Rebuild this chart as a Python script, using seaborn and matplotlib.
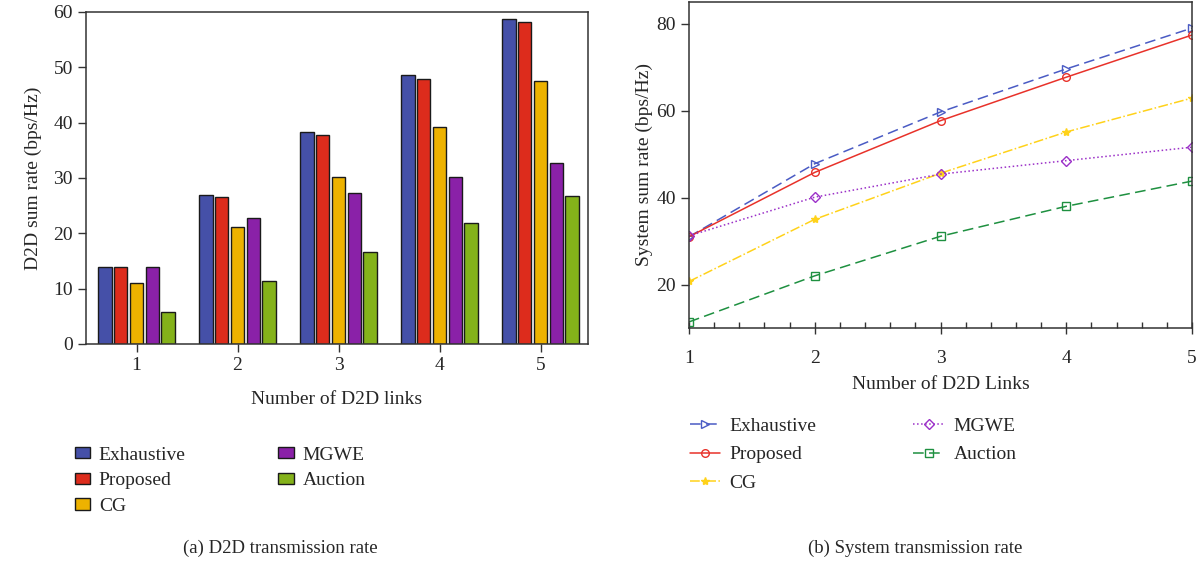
import numpy as np
import pandas as pd
import seaborn as sns
import matplotlib.pyplot as plt
from matplotlib.ticker import MultipleLocator

# Data
links = [1, 2, 3, 4, 5]
schemes = ['Exhaustive', 'Proposed', 'CG', 'MGWE', 'Auction']

d2d_exhaustive = [14.0, 27.0, 38.3, 48.7, 58.7]
d2d_proposed = [14.0, 26.5, 37.7, 47.9, 58.2]
d2d_cg = [11.0, 21.1, 30.1, 39.3, 47.6]
d2d_mgwe = [14.0, 22.8, 27.3, 30.1, 32.7]
d2d_auction = [5.8, 11.3, 16.6, 21.8, 26.7]

sys_exhaustive = [31.0, 47.8, 59.7, 69.6, 79.0]
sys_proposed = [31.0, 45.8, 57.7, 67.7, 77.4]
sys_cg = [20.7, 35.0, 45.6, 55.1, 62.9]
sys_mgwe = [31.2, 40.1, 45.4, 48.5, 51.6]
sys_auction = [11.4, 22.0, 31.1, 38.0, 43.8]

bar_colors = ['#4550A8', '#DD2C1C', '#EDB200', '#8A21A8', '#84B21A']
line_colors = ['#4A5BC4', '#E8322A', '#FFD21A', '#9B30C8', '#1E9040']
line_styles = [(0, (7, 3.5)), '-', '-.', ':', (0, (7, 3.5))]
line_markers = ['>', 'o', '*', 'D', 's']

sns.set_style('white')
plt.rcParams['font.family'] = ['Liberation Serif', 'DejaVu Serif']

fig = plt.figure(figsize=(12.01, 5.65), dpi=100)
W, H = 1201, 565
ax1 = fig.add_axes([86 / W, 1 - 344 / H, 502 / W, 332 / H])
ax2 = fig.add_axes([689 / W, 1 - 328 / H, 503 / W, 326 / H])

# (a) bar chart
d2d = [d2d_exhaustive, d2d_proposed, d2d_cg, d2d_mgwe, d2d_auction]
df_bar = pd.DataFrame({
    'links': np.tile(links, len(schemes)),
    'rate': np.concatenate(d2d),
    'scheme': np.repeat(schemes, len(links)),
})
sns.barplot(data=df_bar, x='links', y='rate', hue='scheme', hue_order=schemes,
            palette=bar_colors, saturation=1, edgecolor='#1a1a1a', linewidth=1.0,
            width=0.78, gap=0.16, ax=ax1, legend=True)
ax1.set_xlim(-0.5, 4.47)
ax1.set_ylim(0, 60)
ax1.yaxis.set_major_locator(MultipleLocator(10))
ax1.set_xlabel('Number of D2D links', fontsize=14, labelpad=12)
ax1.set_ylabel('D2D sum rate (bps/Hz)', fontsize=14, labelpad=8)
h1, l1 = ax1.get_legend_handles_labels()
ax1.get_legend().remove()

# (b) line chart
sysr = [sys_exhaustive, sys_proposed, sys_cg, sys_mgwe, sys_auction]
for name, vals, c, ls, mk in zip(schemes, sysr, line_colors, line_styles, line_markers):
    sns.lineplot(x=links, y=vals, ax=ax2, color=c, linestyle=ls, linewidth=1.1,
                 marker=mk, markersize=5.5 if mk != '*' else 6,
                 markerfacecolor='none' if mk != '*' else c,
                 markeredgecolor=c, markeredgewidth=1.0, label=name)
ax2.set_xlim(1, 5)
ax2.set_ylim(10, 85)
ax2.xaxis.set_major_locator(MultipleLocator(1))
ax2.xaxis.set_minor_locator(MultipleLocator(0.2))
ax2.yaxis.set_major_locator(MultipleLocator(20))
ax2.set_xlabel('Number of D2D Links', fontsize=14, labelpad=6)
ax2.set_ylabel('System sum rate (bps/Hz)', fontsize=14, labelpad=2)
h2, l2 = ax2.get_legend_handles_labels()
ax2.get_legend().remove()

for ax in (ax1, ax2):
    for s in ax.spines.values():
        s.set_visible(True)
        s.set_color('#333333')
        s.set_linewidth(1.1)
    ax.tick_params(axis='both', which='major', direction='out', length=6,
                   width=1, color='#333333', labelsize=14, bottom=True, left=True)
ax2.tick_params(axis='x', which='major', direction='inout', length=8, pad=12)
ax2.tick_params(axis='x', which='minor', direction='in', length=4, width=1,
                color='#333333', bottom=True)

fig.legend(h1, l1, ncol=2, loc='upper left', bbox_to_anchor=(57 / W, 1 - 429 / H),
           frameon=False, fontsize=14, handlelength=0.8, handleheight=0.55,
           columnspacing=4.75, labelspacing=0.45, handletextpad=0.45)
fig.legend(h2, l2, ncol=2, loc='upper left', bbox_to_anchor=(672 / W, 1 - 400 / H),
           frameon=False, fontsize=14, handlelength=1.55,
           columnspacing=5.0, labelspacing=0.55, handletextpad=0.5)

fig.text(280 / W, 1 - 548 / H, '(a) D2D transmission rate', ha='center', va='center', fontsize=13.5)
fig.text(915 / W, 1 - 548 / H, '(b) System transmission rate', ha='center', va='center', fontsize=13.5)

fig.savefig('out.png', dpi=100)
